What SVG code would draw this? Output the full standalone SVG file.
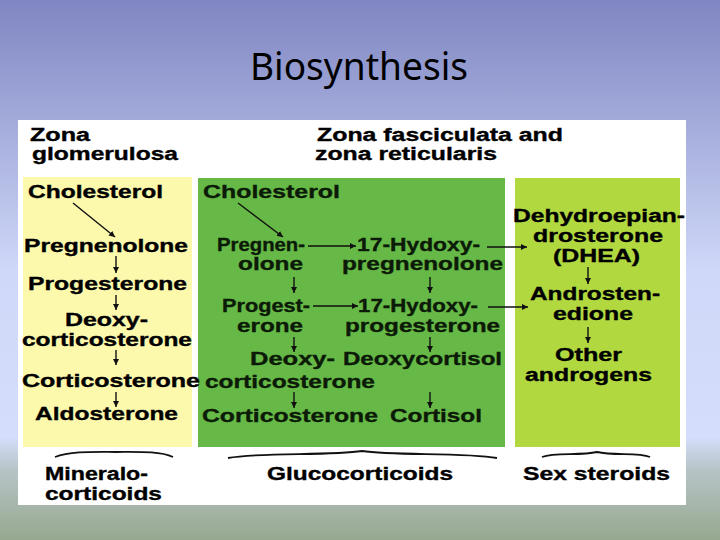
<svg xmlns="http://www.w3.org/2000/svg" width="720" height="540" viewBox="0 0 720 540">
<defs>
<linearGradient id="bg" x1="0" y1="0" x2="0" y2="1">
<stop offset="0" stop-color="#7f86c2"/>
<stop offset="0.5" stop-color="#cfd8f8"/>
<stop offset="0.81" stop-color="#d4ddfb"/>
<stop offset="0.87" stop-color="#b6c4c6"/>
<stop offset="1" stop-color="#96a88f"/>
</linearGradient>
<marker id="ah" viewBox="0 0 10 10" refX="10" refY="5" markerWidth="6" markerHeight="6" markerUnits="userSpaceOnUse" orient="auto">
<path d="M0,0 L10,5 L0,10 Z" fill="#111"/>
</marker>
<style>
.t{font-family:"Liberation Sans",Arial,sans-serif;font-weight:bold;font-size:18px;fill:#000;stroke:#000;stroke-width:0.35;}
.g{fill:#0c1a08;stroke:#0c1a08;}
.title{font-family:"Noto Sans","Open Sans",sans-serif;font-size:38px;fill:#000;}
.c{stroke:#111;stroke-width:1.4;fill:none;marker-end:url(#ah);}
.br{stroke:#111;stroke-width:1.8;fill:none;}
</style>
</defs>
<rect width="720" height="540" fill="url(#bg)"/>
<text class="title" x="250" y="80" textLength="218" lengthAdjust="spacingAndGlyphs">Biosynthesis</text>
<rect x="18" y="120" width="668" height="385" fill="#ffffff"/>
<rect id="panel-glomerulosa" x="23" y="177" width="169" height="270" fill="#fcf8ac"/>
<rect id="panel-fasciculata" x="198" y="178" width="307" height="269" fill="#66b946"/>
<rect id="panel-sex" x="515" y="178" width="165" height="269" fill="#b1d93f"/>

<g id="headers">
<text class="t" x="30" y="141" textLength="60" lengthAdjust="spacingAndGlyphs">Zona</text>
<text class="t" x="32" y="160" textLength="146" lengthAdjust="spacingAndGlyphs">glomerulosa</text>
<text class="t" x="317" y="141" textLength="246" lengthAdjust="spacingAndGlyphs">Zona fasciculata and</text>
<text class="t" x="315" y="160" textLength="182" lengthAdjust="spacingAndGlyphs">zona reticularis</text>
</g>

<g id="connectors">
<line class="c" x1="73" y1="203" x2="115" y2="237"/>
<line class="c" x1="116" y1="256" x2="116" y2="273"/>
<line class="c" x1="116" y1="295" x2="116" y2="310"/>
<line class="c" x1="116" y1="350" x2="116" y2="365"/>
<line class="c" x1="116" y1="392" x2="116" y2="407"/>
<line class="c" x1="238" y1="203" x2="283" y2="237"/>
<line class="c" x1="308" y1="246" x2="356" y2="246"/>
<line class="c" x1="487" y1="247" x2="527" y2="247"/>
<line class="c" x1="313" y1="306" x2="358" y2="306"/>
<line class="c" x1="488" y1="307" x2="528" y2="307"/>
<line class="c" x1="294" y1="277" x2="294" y2="293"/>
<line class="c" x1="294" y1="337" x2="294" y2="352"/>
<line class="c" x1="294" y1="392" x2="294" y2="408"/>
<line class="c" x1="430" y1="277" x2="430" y2="293"/>
<line class="c" x1="430" y1="337" x2="430" y2="352"/>
<line class="c" x1="430" y1="392" x2="430" y2="408"/>
<line class="c" x1="588" y1="267" x2="588" y2="284"/>
<line class="c" x1="588" y1="327" x2="588" y2="343"/>
</g>

<g id="glomerulosa">
<text class="t" x="28" y="198" textLength="135" lengthAdjust="spacingAndGlyphs">Cholesterol</text>
<text class="t" x="24" y="252" textLength="164" lengthAdjust="spacingAndGlyphs">Pregnenolone</text>
<text class="t" x="28" y="290" textLength="159" lengthAdjust="spacingAndGlyphs">Progesterone</text>
<text class="t" x="65" y="326" textLength="83" lengthAdjust="spacingAndGlyphs">Deoxy-</text>
<text class="t" x="22" y="346" textLength="170" lengthAdjust="spacingAndGlyphs">corticosterone</text>
<text class="t" x="22" y="387" textLength="178" lengthAdjust="spacingAndGlyphs">Corticosterone</text>
<text class="t" x="35" y="420" textLength="143" lengthAdjust="spacingAndGlyphs">Aldosterone</text>
</g>

<g id="fasciculata">
<text class="t g" x="203" y="198" textLength="137" lengthAdjust="spacingAndGlyphs">Cholesterol</text>
<text class="t g" x="217" y="251" textLength="88" lengthAdjust="spacingAndGlyphs">Pregnen-</text>
<text class="t g" x="238" y="270" textLength="65" lengthAdjust="spacingAndGlyphs">olone</text>
<text class="t g" x="357" y="251" textLength="123" lengthAdjust="spacingAndGlyphs">17-Hydoxy-</text>
<text class="t g" x="342" y="270" textLength="161" lengthAdjust="spacingAndGlyphs">pregnenolone</text>
<text class="t g" x="222" y="312" textLength="88" lengthAdjust="spacingAndGlyphs">Progest-</text>
<text class="t g" x="358" y="312" textLength="120" lengthAdjust="spacingAndGlyphs">17-Hydoxy-</text>
<text class="t g" x="237" y="332" textLength="66" lengthAdjust="spacingAndGlyphs">erone</text>
<text class="t g" x="345" y="332" textLength="155" lengthAdjust="spacingAndGlyphs">progesterone</text>
<text class="t g" x="250" y="365" textLength="85" lengthAdjust="spacingAndGlyphs">Deoxy-</text>
<text class="t g" x="343" y="365" textLength="159" lengthAdjust="spacingAndGlyphs">Deoxycortisol</text>
<text class="t g" x="205" y="388" textLength="170" lengthAdjust="spacingAndGlyphs">corticosterone</text>
<text class="t g" x="202" y="422" textLength="176" lengthAdjust="spacingAndGlyphs">Corticosterone</text>
<text class="t g" x="390" y="422" textLength="92" lengthAdjust="spacingAndGlyphs">Cortisol</text>
</g>

<g id="sex-steroids">
<text class="t" x="513" y="222" textLength="172" lengthAdjust="spacingAndGlyphs">Dehydroepian-</text>
<text class="t" x="533" y="242" textLength="130" lengthAdjust="spacingAndGlyphs">drosterone</text>
<text class="t" x="553" y="262" textLength="87" lengthAdjust="spacingAndGlyphs">(DHEA)</text>
<text class="t" x="530" y="300" textLength="130" lengthAdjust="spacingAndGlyphs">Androsten-</text>
<text class="t" x="553" y="320" textLength="80" lengthAdjust="spacingAndGlyphs">edione</text>
<text class="t" x="555" y="361" textLength="67" lengthAdjust="spacingAndGlyphs">Other</text>
<text class="t" x="525" y="381" textLength="127" lengthAdjust="spacingAndGlyphs">androgens</text>
</g>

<g id="braces">
<path class="br" d="M55,457 C70,451 95,452 116,452 C137,452 160,451 173,457"/>
<path class="br" d="M228,458 C260,452 330,456 362,451 C394,456 464,452 497,458"/>
<path class="br" d="M542,457 C555,452 580,456 597,452 C614,456 638,452 650,457"/>
</g>

<g id="categories">
<text class="t" x="45" y="480" textLength="103" lengthAdjust="spacingAndGlyphs">Mineralo-</text>
<text class="t" x="45" y="500" textLength="117" lengthAdjust="spacingAndGlyphs">corticoids</text>
<text class="t" x="267" y="480" textLength="186" lengthAdjust="spacingAndGlyphs">Glucocorticoids</text>
<text class="t" x="523" y="480" textLength="147" lengthAdjust="spacingAndGlyphs">Sex steroids</text>
</g>
</svg>
